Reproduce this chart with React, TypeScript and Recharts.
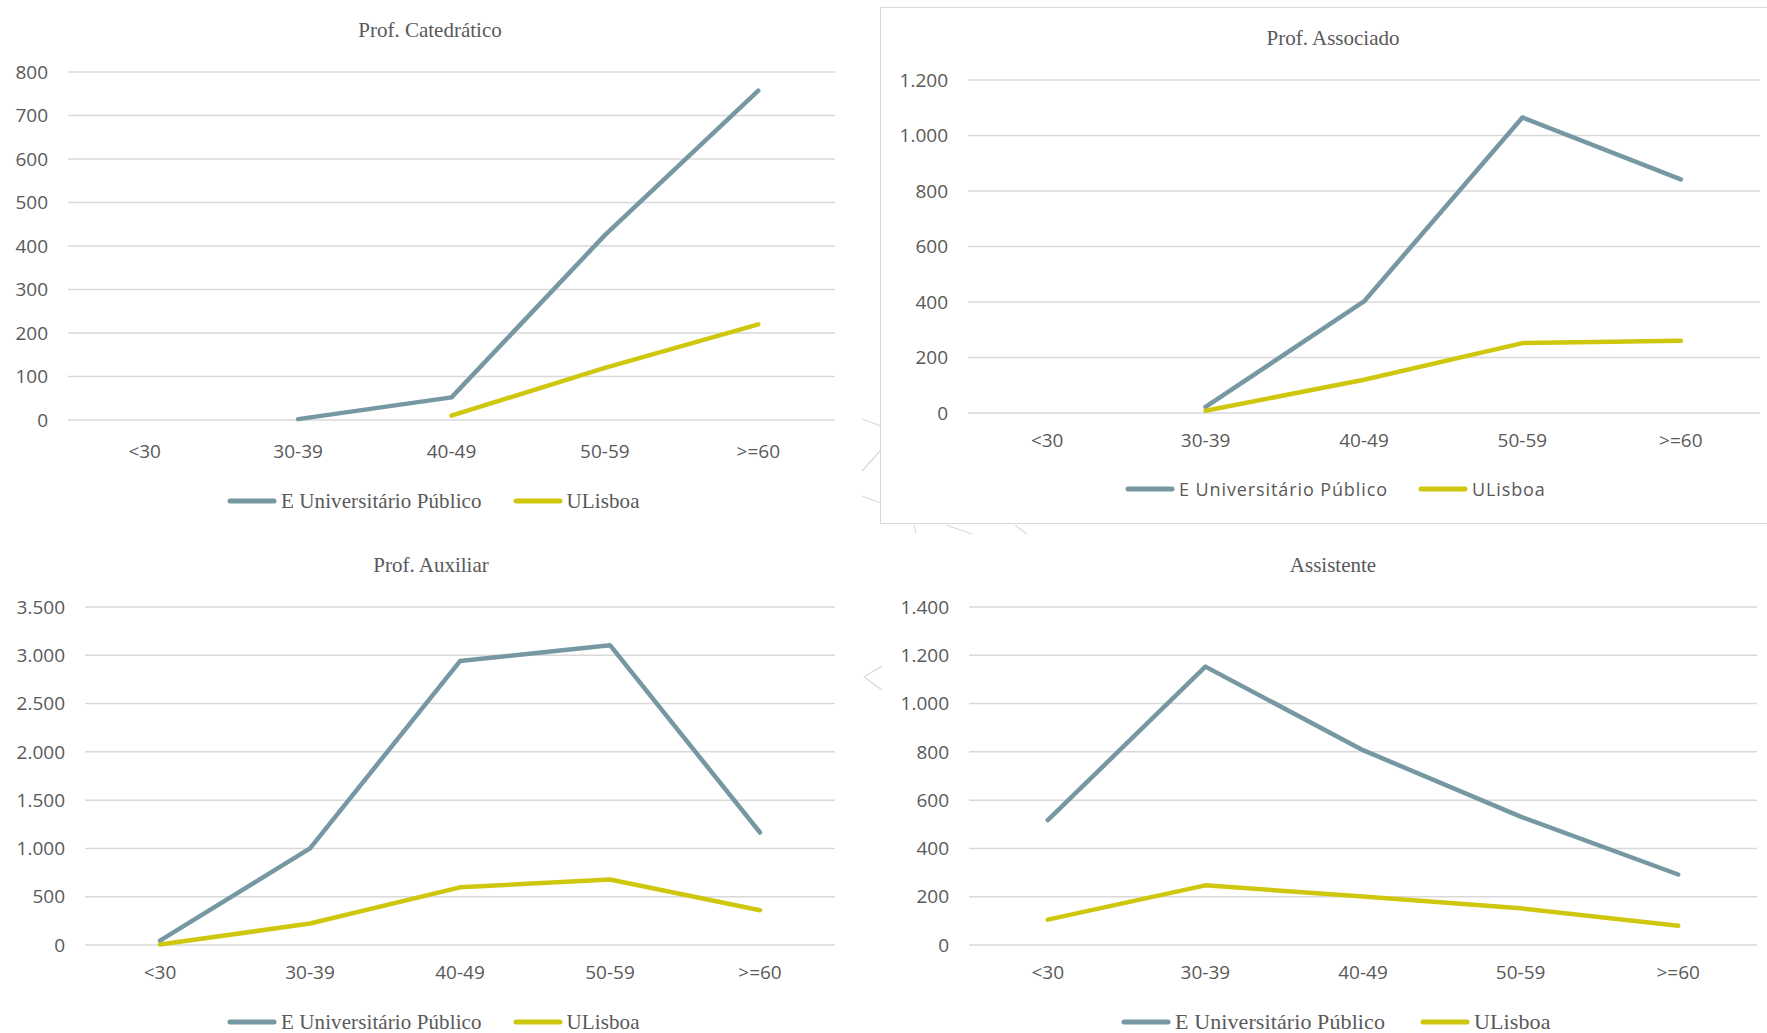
import { LineChart, Line, XAxis, YAxis, CartesianGrid, Legend } from 'recharts';

const ageGroups = ['<30', '30-39', '40-49', '50-59', '>=60'];
const seriesNames = ['E Universitário Público', 'ULisboa'];

// Prof. Catedrático
const catedraticoPublico = [null, 2, 52, 425, 757];
const catedraticoULisboa = [null, null, 10, 120, 220];
// Prof. Associado
const associadoPublico = [null, 22, 402, 1065, 842];
const associadoULisboa = [null, 8, 120, 252, 260];
// Prof. Auxiliar
const auxiliarPublico = [45, 1000, 2940, 3105, 1165];
const auxiliarULisboa = [5, 222, 597, 678, 360];
// Assistente
const assistentePublico = [517, 1153, 807, 532, 292];
const assistenteULisboa = [105, 247, 201, 152, 80];

const BLUE = '#7598a2';
const YELLOW = '#cec70d';
const TEXT = '#595959';
const GRID = '#d9d9d9';
const SERIF = '"Liberation Serif", "Times New Roman", serif';
const SANS = '"Open Sans", sans-serif';

const fmt = (v: number) => String(v).replace(/\B(?=(\d{3})+(?!\d))/g, '.');

function buildRows(publico: (number | null)[], ulisboa: (number | null)[]) {
  return ageGroups.map((age, i) => ({ age, publico: publico[i], ulisboa: ulisboa[i] }));
}

interface PanelProps {
  title: string;
  publico: (number | null)[];
  ulisboa: (number | null)[];
  yMax: number;
  yStep: number;
  box: { left: number; top: number; width: number; height: number };
  plot: { left: number; right: number; top: number; bottom: number };
  xTickMargin: number;
  titleX: number;
  titleY: number;
  legend: { x: number; y: number; font: string; size: number; gap: number; spacing: number };
}

function Panel({ title, publico, ulisboa, yMax, yStep, box, plot, xTickMargin, titleX, titleY, legend }: PanelProps) {
  const data = buildRows(publico, ulisboa);
  const ticks: number[] = [];
  for (let v = 0; v <= yMax; v += yStep) ticks.push(v);
  const plotW = box.width - plot.left - plot.right;
  const pad = plotW / 10;
  const xAxisHeight = 40;

  return (
    <div style={{ position: 'absolute', left: box.left, top: box.top, width: box.width, height: box.height }}>
      <div
        style={{
          position: 'absolute',
          left: titleX - 200,
          top: titleY - 12,
          width: 400,
          textAlign: 'center',
          fontFamily: SERIF,
          fontSize: 21,
          lineHeight: '24px',
          color: TEXT,
        }}
      >
        {title}
      </div>
      <LineChart
        width={box.width}
        height={box.height}
        data={data}
        margin={{ top: plot.top, right: plot.right, left: 0, bottom: plot.bottom - xAxisHeight }}
      >
        <CartesianGrid vertical={false} stroke={GRID} strokeWidth={1.5} />
        <XAxis
          dataKey="age"
          height={xAxisHeight}
          axisLine={false}
          tickLine={false}
          tickSize={0}
          tickMargin={xTickMargin}
          padding={{ left: pad, right: pad }}
          tick={{ fill: TEXT, fontFamily: SANS, fontSize: 19 }}
          interval={0}
        />
        <YAxis
          width={plot.left}
          domain={[0, yMax]}
          ticks={ticks}
          axisLine={false}
          tickLine={false}
          tickSize={0}
          tickMargin={20}
          tickFormatter={fmt}
          tick={{ fill: TEXT, fontFamily: SANS, fontSize: 19 }}
        />
        <Legend
          layout="horizontal"
          verticalAlign="middle"
          align="center"
          wrapperStyle={{ left: legend.x, top: legend.y - 12, width: 'auto' }}
          content={({ payload }: any) => (
            <div
              style={{
                display: 'flex',
                alignItems: 'center',
                fontFamily: legend.font,
                fontSize: legend.size,
                letterSpacing: legend.spacing,
                lineHeight: '24px',
                color: TEXT,
                whiteSpace: 'nowrap',
              }}
            >
              {(payload || []).map((entry: any, i: number) => (
                <span key={i} style={{ display: 'flex', alignItems: 'center', marginLeft: i ? legend.gap : 0 }}>
                  <svg width={50} height={8}>
                    <line x1={3} y1={4} x2={47} y2={4} stroke={entry.color} strokeWidth={5} strokeLinecap="round" />
                  </svg>
                  <span style={{ marginLeft: 4 }}>{entry.value}</span>
                </span>
              ))}
            </div>
          )}
        />
        <Line
          type="linear"
          dataKey="publico"
          name={seriesNames[0]}
          stroke={BLUE}
          strokeWidth={4.5}
          strokeLinecap="round"
          strokeLinejoin="round"
          dot={false}
          activeDot={false}
          isAnimationActive={false}
        />
        <Line
          type="linear"
          dataKey="ulisboa"
          name={seriesNames[1]}
          stroke={YELLOW}
          strokeWidth={4.5}
          strokeLinecap="round"
          strokeLinejoin="round"
          dot={false}
          activeDot={false}
          isAnimationActive={false}
        />
      </LineChart>
    </div>
  );
}

export default function App() {
  return (
    <div style={{ position: 'absolute', left: 0, top: 0, width: 1767, height: 1033, overflow: 'hidden', background: '#fff' }}>
      {/* faint background decoration */}
      <svg width={1767} height={1033} style={{ position: 'absolute', left: 0, top: 0 }}>
        <g stroke={GRID} strokeWidth={1.2} fill="none">
          <line x1={862} y1={419} x2={881} y2={426} />
          <line x1={862} y1={471} x2={881} y2={450} />
          <line x1={862} y1={496} x2={881} y2={503} />
          <line x1={914} y1={525} x2={916} y2={533} />
          <line x1={946} y1={525} x2={972} y2={534} />
          <line x1={1015} y1={525} x2={1027} y2={534} />
          <line x1={864} y1={677} x2={882} y2={666} />
          <line x1={864} y1={677} x2={882} y2={690} />
        </g>
      </svg>
      <div
        style={{
          position: 'absolute',
          left: 880,
          top: 7,
          width: 920,
          height: 517,
          border: `1.5px solid ${GRID}`,
          boxSizing: 'border-box',
          background: '#fff',
        }}
      />
      <Panel
        title="Prof. Catedrático"
        publico={catedraticoPublico}
        ulisboa={catedraticoULisboa}
        yMax={800}
        yStep={100}
        box={{ left: 0, top: 0, width: 880, height: 530 }}
        plot={{ left: 68, right: 45, top: 72, bottom: 110 }}
        xTickMargin={25}
        titleX={430}
        titleY={30}
        legend={{ x: 227, y: 501, font: SERIF, size: 21, gap: 31, spacing: 0.1 }}
      />
      <Panel
        title="Prof. Associado"
        publico={associadoPublico}
        ulisboa={associadoULisboa}
        yMax={1200}
        yStep={200}
        box={{ left: 880, top: 0, width: 887, height: 530 }}
        plot={{ left: 88, right: 7, top: 80, bottom: 117 }}
        xTickMargin={21}
        titleX={453}
        titleY={38}
        legend={{ x: 245, y: 489, font: SANS, size: 18, gap: 30, spacing: 0.9 }}
      />
      <Panel
        title="Prof. Auxiliar"
        publico={auxiliarPublico}
        ulisboa={auxiliarULisboa}
        yMax={3500}
        yStep={500}
        box={{ left: 0, top: 530, width: 880, height: 503 }}
        plot={{ left: 85, right: 45, top: 77, bottom: 88 }}
        xTickMargin={21}
        titleX={431}
        titleY={35}
        legend={{ x: 227, y: 492, font: SERIF, size: 21, gap: 31, spacing: 0.1 }}
      />
      <Panel
        title="Assistente"
        publico={assistentePublico}
        ulisboa={assistenteULisboa}
        yMax={1400}
        yStep={200}
        box={{ left: 880, top: 530, width: 887, height: 503 }}
        plot={{ left: 89, right: 10, top: 77, bottom: 88 }}
        xTickMargin={21}
        titleX={453}
        titleY={35}
        legend={{ x: 241, y: 492, font: SERIF, size: 22, gap: 35, spacing: 0.1 }}
      />
    </div>
  );
}
